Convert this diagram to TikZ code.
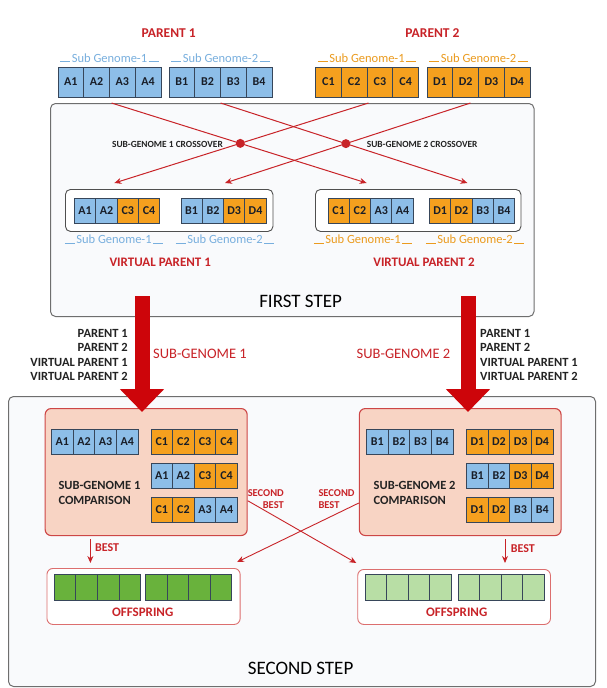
\documentclass[tikz,border=0pt]{standalone}
\usepackage{fontspec}
\setmainfont{Carlito}
\usetikzlibrary{arrows.meta}
\definecolor{cblue}{RGB}{141,190,232}
\definecolor{corange}{RGB}{245,160,30}
\definecolor{cedge}{RGB}{55,70,90}
\definecolor{ctext}{RGB}{25,30,40}
\definecolor{xred}{RGB}{200,35,40}
\definecolor{lblue}{RGB}{120,175,222}
\definecolor{lorange}{RGB}{235,155,30}
\definecolor{pinkfill}{RGB}{248,212,196}
\definecolor{pinkedge}{RGB}{205,70,70}
\definecolor{gdark}{RGB}{105,178,60}
\definecolor{glight}{RGB}{184,222,165}
\definecolor{offedge}{RGB}{220,110,110}
\definecolor{boxfill}{RGB}{249,250,252}
\definecolor{boxedge}{RGB}{110,110,110}
\definecolor{bigred}{RGB}{205,5,10}
\definecolor{dtext}{RGB}{35,35,35}
\newcommand{\fsz}[1]{\fontsize{#1}{#1}\selectfont}
\newcommand{\sublab}[1]{\rule{10pt}{0.9pt}\hspace{1.5pt}#1\hspace{1.5pt}\rule{10pt}{0.9pt}}
\newcommand{\gblk}[6]{%
  \foreach \t/\c [count=\i] in {#6} {
    \node[cell, fill=\c, minimum width=#4pt, minimum height=#5pt, anchor=north west]
      (#1-\i) at ({#2+(\i-1)*#4}, #3) {\t};
  }%
}
\tikzset{
  cell/.style={draw=cedge, line width=0.9pt, inner sep=0pt, outer sep=0pt, text=ctext, font=\fsz{12}\bfseries},
  bigbox/.style={draw=boxedge, fill=boxfill, line width=1pt, rounded corners=5pt, inner sep=0pt},
  vpbox/.style={draw=dtext!80, fill=white, line width=0.9pt, rounded corners=5pt, inner sep=0pt},
  pinkbox/.style={draw=pinkedge, fill=pinkfill, line width=1.1pt, rounded corners=6pt, inner sep=0pt},
  offbox/.style={draw=offedge, fill=white, line width=0.9pt, rounded corners=6pt, inner sep=0pt},
  sub/.style={inner sep=0pt, font=\fsz{12.5}},
  redlab/.style={inner sep=0pt, text=xred, font=\fsz{13}\bfseries},
  graylab/.style={inner sep=0pt, text=dtext, font=\fsz{12.5}\bfseries},
  steplab/.style={inner sep=0pt, text=black, font=\fsz{19}},
  xline/.style={draw=xred, line width=1pt, -{Stealth[length=7pt,width=6pt]}},
  bigarrow/.style={draw=bigred, line width=15pt, -{Triangle[width=43pt,length=23pt]}},
  dot/.style={circle, fill=xred, inner sep=0pt, minimum size=9pt},
}
\begin{document}
\begin{tikzpicture}[x=1pt,y=-1pt]
\useasboundingbox (0,0) rectangle (606,688);
\fill[white] (0,0) rectangle (606,688);

% boxes
\node[bigbox, anchor=north west, minimum width=587pt, minimum height=290pt] (ss) at (8,396) {};
\node[bigbox, anchor=north west, minimum width=483.5pt, minimum height=213pt] (fs) at (50,103) {};

% parent titles
\node[redlab, font=\fsz{13.5}\bfseries, anchor=base] (p1) at (168.7,37.3) {PARENT 1};
\node[redlab, font=\fsz{13.5}\bfseries, anchor=base] (p2) at (432.5,37.3) {PARENT 2};

% parent blocks
\gblk{A}{58}{67}{25.75}{30}{A1/cblue,A2/cblue,A3/cblue,A4/cblue}
\gblk{B}{169}{67}{25.75}{30}{B1/cblue,B2/cblue,B3/cblue,B4/cblue}
\gblk{C}{315.5}{67}{25.75}{30}{C1/corange,C2/corange,C3/corange,C4/corange}
\gblk{D}{427}{67}{25.75}{30}{D1/corange,D2/corange,D3/corange,D4/corange}
\node[sub, text=lblue, anchor=base] (lA) at (109.5,62) {\sublab{Sub Genome-1}};
\node[sub, text=lblue, anchor=base] (lB) at (220.5,62) {\sublab{Sub Genome-2}};
\node[sub, text=lorange, anchor=base] (lC) at (367,62) {\sublab{Sub Genome-1}};
\node[sub, text=lorange, anchor=base] (lD) at (478.5,62) {\sublab{Sub Genome-2}};

% virtual parent boxes
\node[vpbox, anchor=north west, minimum width=207.5pt, minimum height=42pt] (vb1) at (65,189) {};
\node[vpbox, anchor=north west, minimum width=205.5pt, minimum height=42pt] (vb2) at (315,189) {};
\gblk{va}{74.5}{198}{21.3}{25}{A1/cblue,A2/cblue,C3/corange,C4/corange}
\gblk{vb}{181}{198}{21.3}{25}{B1/cblue,B2/cblue,D3/corange,D4/corange}
\gblk{vc}{328}{198}{21.3}{25}{C1/corange,C2/corange,A3/cblue,A4/cblue}
\gblk{vd}{429.5}{198}{21.3}{25}{D1/corange,D2/corange,B3/cblue,B4/cblue}
\node[sub, text=lblue, anchor=base] (lva) at (114,243.5) {\sublab{Sub Genome-1}};
\node[sub, text=lblue, anchor=base] (lvb) at (225,243.5) {\sublab{Sub Genome-2}};
\node[sub, text=lorange, anchor=base] (lvc) at (363,243.5) {\sublab{Sub Genome-1}};
\node[sub, text=lorange, anchor=base] (lvd) at (475,243.5) {\sublab{Sub Genome-2}};
\node[redlab, anchor=base] (vp1) at (160.2,266) {VIRTUAL PARENT 1};
\node[redlab, anchor=base] (vp2) at (424,266) {VIRTUAL PARENT 2};
\node[steplab, anchor=base] (fst) at (300.6,307) {FIRST STEP};

% crossover lines
\coordinate (sA) at ([xshift=2pt]A-2.south east |- fs.north);
\coordinate (sB) at (B-2.south east |- fs.north);
\coordinate (sC) at ([xshift=1.5pt]C-2.south east |- fs.north);
\coordinate (sD) at ([xshift=-8pt]D-2.south east |- fs.north);
\coordinate (eA) at ([xshift=-4pt,yshift=15pt]vc-2.north east);
\coordinate (eB) at ([xshift=-4.7pt,yshift=15pt]vd-2.north east);
\coordinate (eC) at ([xshift=-2.7pt,yshift=15pt]va-2.north east);
\coordinate (eD) at ([xshift=1.4pt,yshift=15pt]vb-2.north east);
\draw[xline] (sA) -- (eA);
\draw[xline] (sB) -- (eB);
\draw[xline] (sC) -- (eC);
\draw[xline] (sD) -- (eD);
\node[dot] (x1) at (intersection of sA--eA and sC--eC) {};
\node[dot] (x2) at (intersection of sB--eB and sD--eD) {};
\node[inner sep=0pt, text=dtext, font=\fsz{9.4}\bfseries, anchor=base east] (xl1) at (223,147.7) {SUB-GENOME 1 CROSSOVER};
\node[inner sep=0pt, text=dtext, font=\fsz{9.4}\bfseries, anchor=base west] (xl2) at (366.6,147.7) {SUB-GENOME 2 CROSSOVER};

% pink comparison boxes
\node[pinkbox, anchor=north west, minimum width=202pt, minimum height=127pt] (pk1) at (44.6,408) {};
\node[pinkbox, anchor=north west, minimum width=201.7pt, minimum height=127pt] (pk2) at (358.8,408) {};

% big arrows
\coordinate (ba1) at (142,296);
\coordinate (ba2) at (468,296);
\draw[bigarrow] (ba1) -- ([yshift=-4pt]pk1.north -| ba1);
\draw[bigarrow] (ba2) -- ([yshift=-4pt]pk2.north -| ba2);

% side texts
\node[graylab, anchor=base east] (l1) at (128,337) {PARENT 1};
\node[graylab, anchor=base east] (l2) at (128,351.5) {PARENT 2};
\node[graylab, anchor=base east] (l3) at (128,366) {VIRTUAL PARENT 1};
\node[graylab, anchor=base east] (l4) at (128,380.5) {VIRTUAL PARENT 2};
\node[graylab, anchor=base west] (r1) at (480,337) {PARENT 1};
\node[graylab, anchor=base west] (r2) at (480,351.5) {PARENT 2};
\node[graylab, anchor=base west] (r3) at (480,366) {VIRTUAL PARENT 1};
\node[graylab, anchor=base west] (r4) at (480,380.5) {VIRTUAL PARENT 2};
\node[redlab, font=\fsz{14.5}, anchor=base] (sg1) at (200,358.3) {SUB-GENOME 1};
\node[redlab, font=\fsz{14.5}, anchor=base] (sg2) at (403.5,358.3) {SUB-GENOME 2};

% comparison contents
\gblk{ka}{51.6}{429}{21.6}{25.5}{A1/cblue,A2/cblue,A3/cblue,A4/cblue}
\gblk{kc}{151}{429}{21.6}{25.5}{C1/corange,C2/corange,C3/corange,C4/corange}
\gblk{kx}{151}{463}{21.6}{25.5}{A1/cblue,A2/cblue,C3/corange,C4/corange}
\gblk{ky}{151}{497}{21.6}{25.5}{C1/corange,C2/corange,A3/cblue,A4/cblue}
\gblk{kb}{366.6}{429}{21.6}{25.5}{B1/cblue,B2/cblue,B3/cblue,B4/cblue}
\gblk{kd}{466.6}{429}{21.6}{25.5}{D1/corange,D2/corange,D3/corange,D4/corange}
\gblk{kz}{466.6}{463}{21.6}{25.5}{B1/cblue,B2/cblue,D3/corange,D4/corange}
\gblk{kw}{466.6}{497}{21.6}{25.5}{D1/corange,D2/corange,B3/cblue,B4/cblue}
\node[graylab, font=\fsz{12.5}\bfseries, anchor=base west] (c1a) at (58.3,489) {SUB-GENOME 1};
\node[graylab, font=\fsz{12.5}\bfseries, anchor=base west] (c1b) at (58.3,504) {COMPARISON};
\node[graylab, font=\fsz{12.5}\bfseries, anchor=base west] (c2a) at (373.5,489) {SUB-GENOME 2};
\node[graylab, font=\fsz{12.5}\bfseries, anchor=base west] (c2b) at (373.5,504) {COMPARISON};

% offspring boxes
\node[offbox, anchor=north west, minimum width=193.2pt, minimum height=56pt] (so1) at (46.5,568) {};
\node[offbox, anchor=north west, minimum width=192.7pt, minimum height=55pt] (so2) at (357.3,569) {};
\gblk{ga}{54.3}{574}{21.6}{26}{{}/gdark,{}/gdark,{}/gdark,{}/gdark}
\gblk{gb}{145.5}{574}{21.6}{26}{{}/gdark,{}/gdark,{}/gdark,{}/gdark}
\gblk{gc}{365}{574}{21.6}{26}{{}/glight,{}/glight,{}/glight,{}/glight}
\gblk{gd}{458}{574}{21.6}{26}{{}/glight,{}/glight,{}/glight,{}/glight}
\node[redlab, anchor=base] (of1) at (142.7,616) {OFFSPRING};
\node[redlab, anchor=base] (of2) at (456.7,616) {OFFSPRING};

% second best lines
\draw[xline, line width=0.9pt] (pk1.east |- 0,500.7) -- ([xshift=-1pt,yshift=6pt]so2.north west);
\draw[xline, line width=0.9pt] (pk2.west |- 0,503) -- ([xshift=-3.5pt,yshift=6pt]so1.north east);
\node[redlab, font=\fsz{10.5}\bfseries, anchor=base east] (sb1) at (284,496.7) {SECOND};
\node[redlab, font=\fsz{10.5}\bfseries, anchor=base east] (sb2) at (284,508.3) {BEST};
\node[redlab, font=\fsz{10.5}\bfseries, anchor=base west] (sb3) at (318.3,496.7) {SECOND};
\node[redlab, font=\fsz{10.5}\bfseries, anchor=base west] (sb4) at (318.3,508.3) {BEST};

% best arrows
\draw[xline, line width=0.9pt] ([yshift=-3pt]pk1.south -| 90.4,0) -- ([yshift=5pt]so1.north -| 90.4,0);
\draw[xline, line width=0.9pt] ([yshift=-3pt]pk2.south -| 505,0) -- ([yshift=6pt]so2.north -| 505,0);
\node[redlab, font=\fsz{12}\bfseries, anchor=base west] (bt1) at (95,551.7) {BEST};
\node[redlab, font=\fsz{12}\bfseries, anchor=base west] (bt2) at (510.7,552.5) {BEST};

\node[steplab, anchor=base] (sst) at (300.6,674) {SECOND STEP};
\end{tikzpicture}
\end{document}
